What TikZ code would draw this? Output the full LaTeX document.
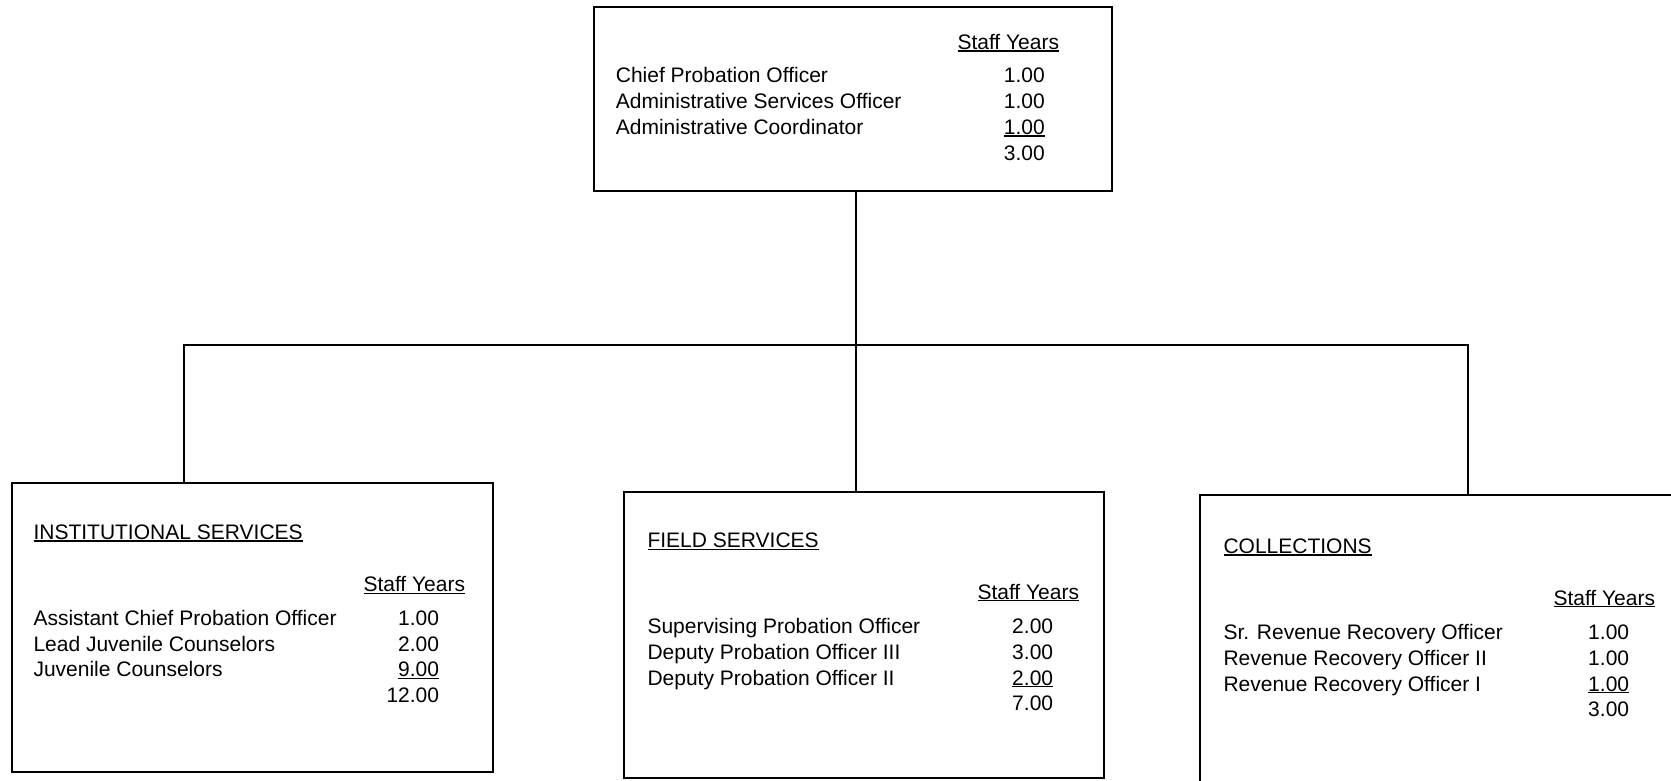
\documentclass[tikz,border=0pt]{standalone}
\usepackage{fontspec}
\setmainfont{Liberation Sans}
\newcommand\myul[1]{\setbox0\hbox{#1}\rlap{\rule[-2.4pt]{\wd0}{1.5pt}}\box0}
\begin{document}
\begin{tikzpicture}[x=1pt,y=-1pt,
  box/.style={draw,line width=1.8pt,rectangle,inner sep=0pt,outer sep=0pt,anchor=north west},
  txt/.style={inner sep=0pt,anchor=base west,font=\fontsize{21}{26}\selectfont},
  num/.style={txt,anchor=base east},
  wire/.style={line width=1.8pt}]
\clip (0,0) rectangle (1671,780);
\fill[white] (0,0) rectangle (1671,780);

% boxes
\node[box,minimum width=518.3pt,minimum height=184pt] (top) at (594,7.3) {};
\node[box,minimum width=481pt,minimum height=288.4pt] (inst) at (11.7,483.3) {};
\node[box,minimum width=480.3pt,minimum height=286.3pt] (field) at (624,491.7) {};
\node[box,minimum width=481pt,minimum height=288pt] (coll) at (1200,495) {};

% connectors
\coordinate (bl) at (184,345.3);
\coordinate (bm) at (856,345.3);
\coordinate (br) at (1468.3,345.3);
\draw[wire] (bm |- top.south) -- (bm |- field.north);
\draw[wire] (bl |- inst.north) -- (bl) -- (br) -- (br |- coll.north);

% top box text
\node[txt] (tsy) at (957.3,49.3) {\myul{Staff Years}};
\node[txt] (t1) at (615.7,82.7) {Chief Probation Officer};
\node[txt] (t2) at (615.7,108.3) {Administrative Services Officer};
\node[txt] (t3) at (615.7,134.3) {Administrative Coordinator};
\node[num] (n1) at (1045,82.7) {1.00};
\node[num] (n2) at (1045,108.3) {1.00};
\node[num] (n3) at (1045,134.3) {\myul{1.00}};
\node[num] (n4) at (1045,160.3) {3.00};

% institutional services
\node[txt] (ih) at (33.3,539.5) {\myul{INSTITUTIONAL SERVICES}};
\node[txt] (isy) at (363.3,591.7) {\myul{Staff Years}};
\node[txt] (i1) at (33.3,625) {Assistant Chief Probation Officer};
\node[txt] (i2) at (33.3,651) {Lead Juvenile Counselors};
\node[txt] (i3) at (33.3,676.7) {Juvenile Counselors};
\node[num] (in1) at (439.3,625) {1.00};
\node[num] (in2) at (439.3,651) {2.00};
\node[num] (in3) at (439.3,676.7) {\myul{9.00}};
\node[num] (in4) at (439.3,702.7) {12.00};

% field services
\node[txt] (fh) at (647.3,547.7) {\myul{FIELD SERVICES}};
\node[txt] (fsy) at (977.3,599) {\myul{Staff Years}};
\node[txt] (f1) at (647.3,633.3) {Supervising Probation Officer};
\node[txt] (f2) at (647.3,659.3) {Deputy Probation Officer III};
\node[txt] (f3) at (647.3,685) {Deputy Probation Officer II};
\node[num] (fn1) at (1053.3,633.3) {2.00};
\node[num] (fn2) at (1053.3,659.3) {3.00};
\node[num] (fn3) at (1053.3,685) {\myul{2.00}};
\node[num] (fn4) at (1053.3,710.7) {7.00};

% collections
\node[txt] (ch) at (1223.3,553.3) {\myul{COLLECTIONS}};
\node[txt] (csy) at (1553.3,605) {\myul{Staff Years}};
\node[txt] (c1) at (1223.3,639.3) {Sr. Revenue Recovery Officer};
\node[txt] (c2) at (1223.3,665) {Revenue Recovery Officer II};
\node[txt] (c3) at (1223.3,691) {Revenue Recovery Officer I};
\node[num] (cn1) at (1629.3,639.3) {1.00};
\node[num] (cn2) at (1629.3,665) {1.00};
\node[num] (cn3) at (1629.3,691) {\myul{1.00}};
\node[num] (cn4) at (1629.3,716.7) {3.00};
\end{tikzpicture}
\end{document}
